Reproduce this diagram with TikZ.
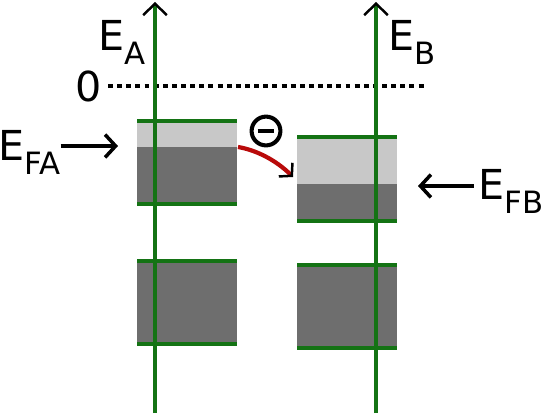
\documentclass[tikz,border=0pt]{standalone}
\usepackage{fontspec}
\setmainfont{DejaVu Sans}
\usetikzlibrary{arrows.meta}
\definecolor{levelgreen}{RGB}{20,115,20}
\definecolor{filledgray}{RGB}{110,110,110}
\definecolor{emptygray}{RGB}{200,200,200}
\definecolor{hopred}{RGB}{185,10,10}
\newcommand{\bandlabel}[2]{#1\raisebox{-8pt}{\fontsize{17.5}{18}\selectfont #2}}

\begin{document}
\begin{tikzpicture}[
    x=0.02cm, y=-0.02cm,
    every node/.style={inner sep=0pt, font=\fontsize{23.5}{25}\selectfont},
    axis/.style={levelgreen, line width=2.4pt,
        -{Straight Barb[black, length=6.5pt, width=13.5pt, line width=1.4pt]}},
    bandedge/.style={levelgreen, line width=2.2pt},
    pointer/.style={line width=2pt, -{Straight Barb[length=6pt, width=13pt]}},
    hop/.style={hopred, line width=2.4pt,
        -{Straight Barb[black, length=5pt, width=11pt, line width=1.4pt]}},
    electron/.style={circle, draw, line width=2.3pt, minimum size=16.4pt}
  ]
  \useasboundingbox (0,0) rectangle (548,413);

  \draw[line width=2pt, dash pattern=on 2.8pt off 2.4pt] (108,86) -- (426,86);
  \node[anchor=east] (zero) at (102,86) {0};

  \fill[emptygray] (137,120.7) rectangle (237,146.7);
  \fill[filledgray] (137,146.7) rectangle (237,204);
  \fill[emptygray] (297,137.3) rectangle (397,184.3);
  \fill[filledgray] (297,184.3) rectangle (397,220.7);
  \fill[filledgray] (137,261) rectangle (237,344);
  \fill[filledgray] (297,265) rectangle (397,348);

  \coordinate (Abottom) at (155,413);
  \coordinate (Atop) at (155,2);
  \coordinate (Bbottom) at (376,413);
  \coordinate (Btop) at (376,2);
  \draw[axis] (Abottom) -- (Atop);
  \draw[axis] (Bbottom) -- (Btop);

  \foreach \x/\y in {137/120.7, 137/204, 137/261, 137/344,
                     297/137.3, 297/220.7, 297/265, 297/348}
    \draw[bandedge] (\x,\y) -- ++(100,0);

  \node[anchor=base west] (EA) at (98,50) {\bandlabel{E}{A}};
  \node[anchor=base west] (EB) at (388,50) {\bandlabel{E}{B}};
  \node[anchor=base west] (EFA) at (-2,160) {\bandlabel{E}{FA}};
  \node[anchor=base west] (EFB) at (478,199) {\bandlabel{E}{FB}};

  \coordinate (FA) at (118,146);
  \coordinate (FB) at (418,186);
  \draw[pointer] (EFA.east |- FA) -- (FA);
  \draw[pointer, shorten <=2.3pt] (EFB.west |- FB) -- (FB);

  \node[electron] (electron) at (266,131) {\rule[-1.15pt]{9.6pt}{2.3pt}};
  \coordinate (hopstart) at (238,147);
  \coordinate (hopend) at (293,177);
  \draw[hop] (hopstart) .. controls (256,150) and (276,160) .. (hopend);
\end{tikzpicture}
\end{document}
